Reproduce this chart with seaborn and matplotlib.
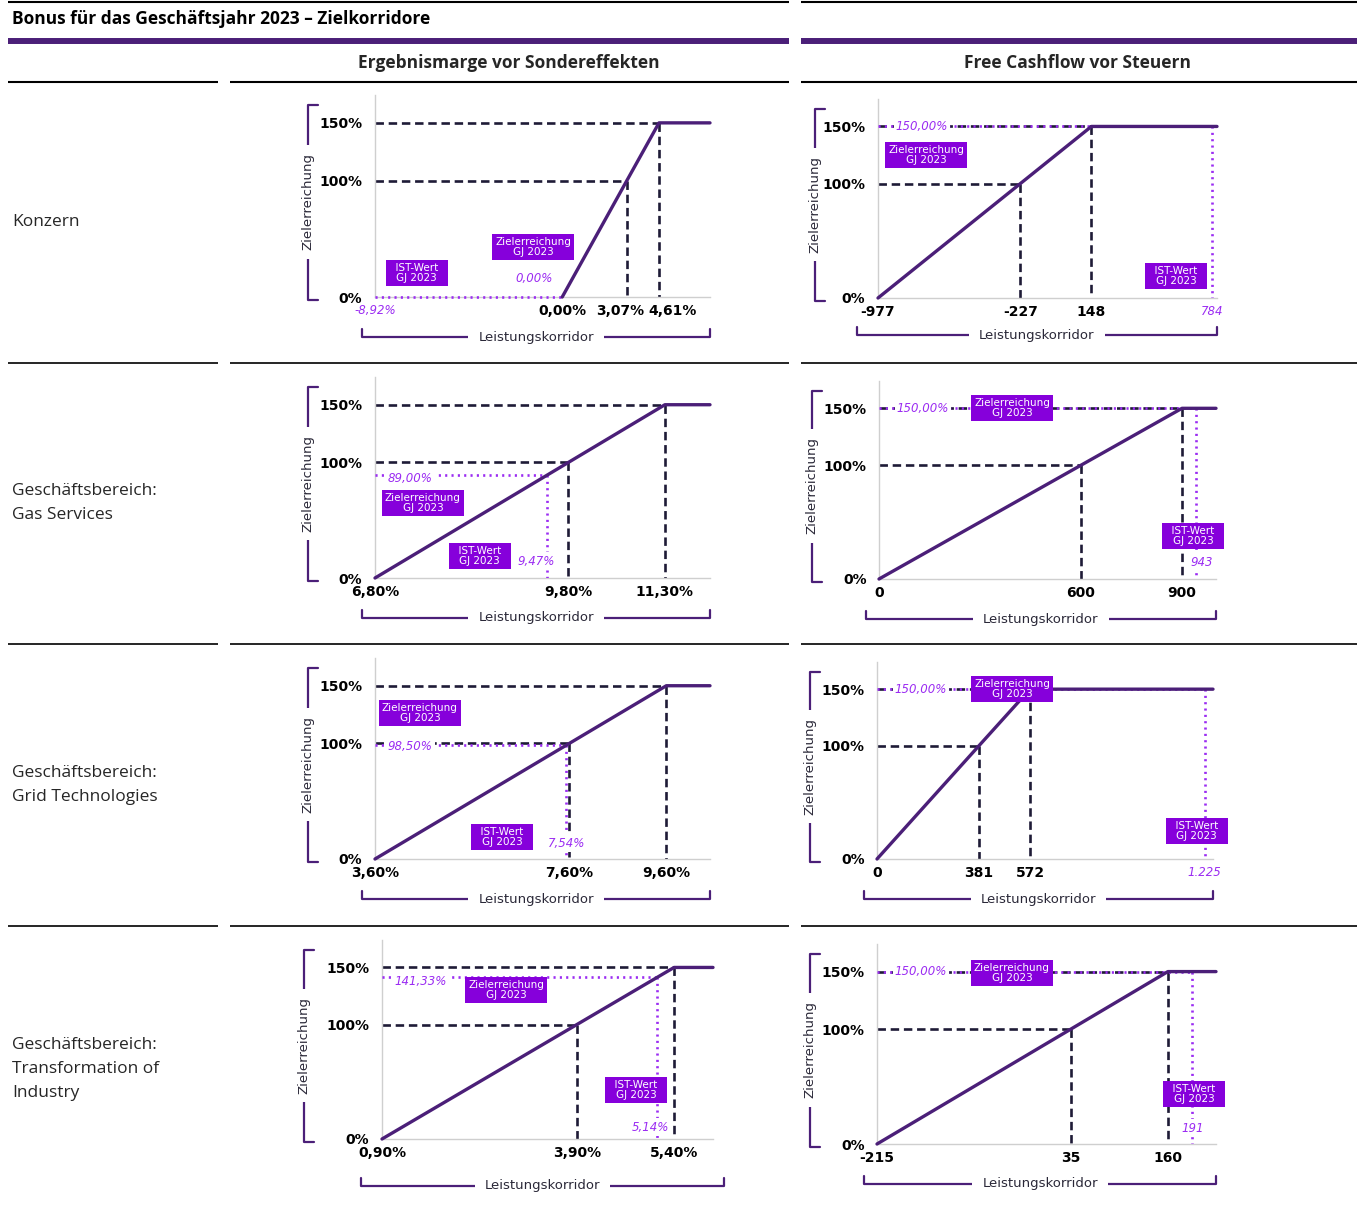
import numpy as np
import pandas as pd
import seaborn as sns
import matplotlib.pyplot as plt
import matplotlib.transforms as mtransforms

# Zeilen und Spalten der Tabelle
rows = ['Konzern', 'Geschäftsbereich:\nGas Services', 'Geschäftsbereich:\nGrid Technologies',
        'Geschäftsbereich:\nTransformation of\nIndustry']
columns = ['Ergebnismarge vor Sondereffekten', 'Free Cashflow vor Steuern']

# Ergebnismarge vor Sondereffekten (%)
em_start = [0.00, 6.80, 3.60, 0.90]      # 0% Zielerreichung
em_target = [3.07, 9.80, 7.60, 3.90]     # 100%
em_cap = [4.61, 11.30, 9.60, 5.40]       # 150%
em_ist = [-8.92, 9.47, 7.54, 5.14]
em_achieved = [0.00, 89.00, 98.50, 141.33]
em_right = [7.04, 12.0, 10.5, 6.0]

# Free Cashflow vor Steuern
fcf_start = [-977, 0, 0, -215]
fcf_target = [-227, 600, 381, 35]
fcf_cap = [148, 900, 572, 160]
fcf_ist = [784, 943, 1225, 191]
fcf_achieved = [150.00, 150.00, 150.00, 150.00]
fcf_right = [810, 1001, 1256, 222]

# layout (pixel positions of the panels, label placement)
axes_px = [[(375, 95, 710, 297), (878, 99, 1217, 298)],
           [(375, 377, 710, 578), (879, 381, 1216, 579)],
           [(375, 658, 710, 859), (877, 662, 1213, 859)],
           [(382, 940, 713, 1139), (877, 944, 1216, 1144)]]
ist_box = [[(0.125, 0.119), (0.879, 0.111)], [(0.313, 0.109), (0.932, 0.217)],
           [(0.379, 0.109), (0.952, 0.142)], [(0.767, 0.246), (0.935, 0.25)]]
ziel_box = [[(0.472, 0.248), (0.142, 0.719)], [(0.143, 0.373), (0.395, 0.864)],
            [(0.134, 0.726), (0.402, 0.863)], [(0.375, 0.749), (0.398, 0.855)]]
ach_off = [[(-28, 19), (44, 0)], [(35, -3), (44, 0)], [(35, -1), (44, 0)], [(39, -4), (44, 0)]]
ist_off = [[None, None], [(-11, 17), (5, 16)], [(0, 16), None], [(-7, 12), (1, 16)]]
tick_shift = {(0, 0): {1: -6, 2: 14}}
# bracket offsets: left bracket x, bottom bracket y, bottom bracket left/right
bracket_off = {(3, 0): (-78, 47, -21, 11), (0, 1): (-63, 37, -21, 0)}

purple = '#4B1F78'
accent = '#9B2CF2'
box_c = '#8600DB'
dash_c = '#1E1B36'
spine_c = '#CFCFCF'
label_c = '#2A2838'

sns.set_theme(style='white')
plt.rcParams['font.family'] = ['Open Sans', 'DejaVu Sans']

W, H = 1364, 1207
fig = plt.figure(figsize=(W / 100, H / 100), dpi=100)

bg = fig.add_axes([0, 0, 1, 1])
bg.set_xlim(0, W)
bg.set_ylim(H, 0)
bg.axis('off')

# Linien der Tabelle
for x0, x1 in [(8, 789), (801, 1357)]:
    bg.plot([x0, x1], [1.5, 1.5], color='black', lw=1.5, solid_capstyle='butt')
    bg.plot([x0, x1], [41, 41], color=purple, lw=4.3, solid_capstyle='butt')
for y in [82, 363, 644, 926]:
    for x0, x1 in [(8, 218), (230, 789), (801, 1357)]:
        bg.plot([x0, x1], [y, y], color='black', lw=1.5 if y == 82 else 1.2, solid_capstyle='butt')

bg.text(12, 19, 'Bonus für das Geschäftsjahr 2023 – Zielkorridore', fontsize=12.5,
        fontweight='bold', va='center', ha='left', color='black')
bg.text(509, 63, columns[0], fontsize=12.5, fontweight='bold', ha='center', va='center')
bg.text(1078, 63, columns[1], fontsize=12.5, fontweight='bold', ha='center', va='center')
row_y = [222, 503, 785, 1069]
for lab, y in zip(rows, row_y):
    bg.text(12, y, lab, fontsize=12.5, ha='left', va='center', linespacing=1.7)


def fmt_em(v):
    return f'{v:.2f}'.replace('.', ',') + '%'


def fmt_fcf(v):
    return f'{v:,.0f}'.replace(',', '.')


def to_fig(l, t, r, b):
    return [l / W, 1 - b / H, (r - l) / W, (b - t) / H]


def brackets(l, t, r, b, off):
    dxb, dyb, dxl, dxr = off
    xb = l + dxb
    bg.plot([xb + 10, xb, xb, xb + 10], [t + 10, t + 10, b + 3, b + 3], color=purple, lw=1.6)
    bg.text(xb, (t + b) / 2 + 6, 'Zielerreichung', rotation=90, ha='center', va='center',
            fontsize=9.5, color=label_c, family='DejaVu Sans',
            bbox=dict(fc='white', ec='none', pad=6))
    yb = b + dyb
    xl, xr = l + dxl, r + dxr
    bg.plot([xl, xl, xr, xr], [yb - 8, yb, yb, yb - 8], color=purple, lw=1.6)
    bg.text((xl + xr) / 2, yb, 'Leistungskorridor', ha='center', va='center',
            fontsize=9.5, color=label_c, family='DejaVu Sans',
            bbox=dict(fc='white', ec='none', pad=7))


italic = dict(color=accent, fontsize=8.5, style='italic', family='DejaVu Sans')

for i in range(4):
    for col in range(2):
        if col == 0:
            start, target, cap = em_start[i], em_target[i], em_cap[i]
            ist, ach, right, fmt = em_ist[i], em_achieved[i], em_right[i], fmt_em
        else:
            start, target, cap = fcf_start[i], fcf_target[i], fcf_cap[i]
            ist, ach, right, fmt = fcf_ist[i], fcf_achieved[i], fcf_right[i], fmt_fcf

        l, t, r, b = axes_px[i][col]
        brackets(l, t, r, b, bracket_off.get((i, col), (-67, 40, -13, 0)))
        ax = fig.add_axes(to_fig(l, t, r, b))
        ax.set_facecolor('none')
        xmin = min(start, ist)

        curve = pd.DataFrame({'x': [start, target, cap, right], 'y': [0, 100, 150, 150]})
        sns.lineplot(data=curve, x='x', y='y', ax=ax, color=purple, lw=2.4, sort=False,
                     zorder=4, clip_on=False)

        for xv, yv in [(target, 100), (cap, 150)]:
            ax.plot([xmin, xv], [yv, yv], color=dash_c, lw=1.9, ls=(0, (3.2, 1.8)), zorder=2)
            ax.plot([xv, xv], [yv, 0], color=dash_c, lw=1.9, ls=(0, (3.2, 1.8)), zorder=2)

        x_hit = start + ach / 100 * (target - start)
        ax.plot([xmin, max(ist, x_hit)], [ach, ach], color=accent, lw=1.9,
                ls=(0, (0.8, 1.6)), zorder=3, clip_on=False)
        if ach > 0:
            ax.plot([ist, ist], [ach, 0], color=accent, lw=1.9, ls=(0, (0.8, 1.6)), zorder=3)

        ax.set_xlim(xmin, right)
        ax.set_ylim(0, 174)
        sns.despine(ax=ax)
        for s in ['left', 'bottom']:
            ax.spines[s].set_color(spine_c)
            ax.spines[s].set_linewidth(1)

        ax.set_yticks([0, 100, 150])
        ax.set_yticklabels(['0%', '100%', '150%'])
        ticks = [start, target, cap]
        if ist_off[i][col] is None:
            ticks = ticks + [ist]
        ax.set_xticks(ticks)
        ax.set_xticklabels([fmt(v) for v in ticks])
        ax.tick_params(length=0, labelsize=10, labelcolor='black')
        ax.tick_params(axis='x', pad=5)
        ax.tick_params(axis='y', pad=9)
        for lab in ax.get_xticklabels() + ax.get_yticklabels():
            lab.set_fontweight('bold')
            lab.set_family('DejaVu Sans')
        if ist_off[i][col] is None:
            lab = ax.get_xticklabels()[-1]
            lab.set_fontweight('normal')
            lab.set_style('italic')
            lab.set_color(accent)
            lab.set_fontsize(8.5)
        for k, dx in tick_shift.get((i, col), {}).items():
            lab = ax.get_xticklabels()[k]
            lab.set_transform(lab.get_transform() +
                              mtransforms.ScaledTranslation(dx / 100, 0, fig.dpi_scale_trans))
        ax.set_xlabel('')
        ax.set_ylabel('')

        # Zielerreichung (Wert)
        anchor = (xmin, ach) if ach > 0 else (start, 0)
        ax.annotate(fmt_em(ach), xy=anchor, xytext=ach_off[i][col], textcoords='offset pixels',
                    ha='center', va='center', zorder=6, annotation_clip=False,
                    bbox=dict(fc='white', ec='none', pad=1.5), **italic)
        # IST-Wert im Diagramm
        if ist_off[i][col] is not None:
            ax.annotate(fmt(ist), xy=(ist, 0), xytext=ist_off[i][col], textcoords='offset pixels',
                        ha='center', va='center', zorder=6,
                        bbox=dict(fc='white', ec='none', pad=1.5), **italic)

        box = dict(boxstyle='square,pad=0.3', fc=box_c, ec='none')
        ax.text(*ist_box[i][col], '  IST-Wert  \nGJ 2023', transform=ax.transAxes, ha='center',
                va='center', color='white', fontsize=7.5, family='DejaVu Sans',
                linespacing=1.0, multialignment='center', bbox=box, zorder=7)
        ax.text(*ziel_box[i][col], 'Zielerreichung\nGJ 2023', transform=ax.transAxes,
                ha='center', va='center', color='white', fontsize=7.5, family='DejaVu Sans',
                linespacing=1.0, multialignment='center', bbox=box, zorder=7)

fig.savefig('out.png', dpi=100)
